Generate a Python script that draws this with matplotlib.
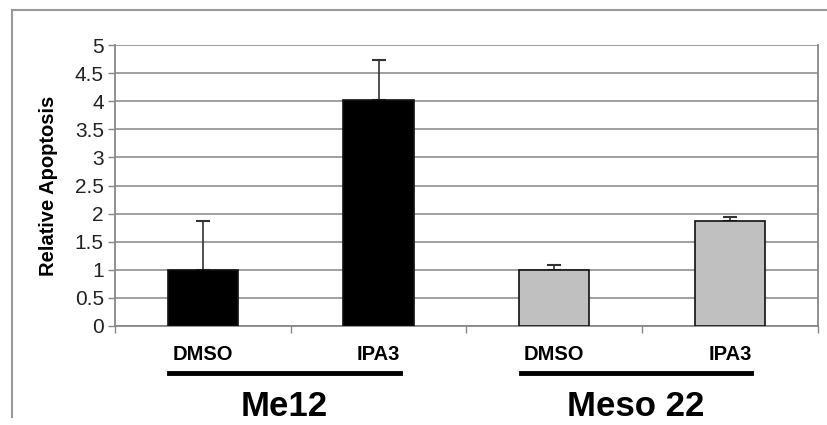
import matplotlib.pyplot as plt
from matplotlib.lines import Line2D

plt.rcParams['font.family'] = ['Liberation Sans', 'DejaVu Sans']

treatments = ["DMSO", "IPA3", "DMSO", "IPA3"]
groups = ["Me12", "Meso 22"]
values = [1.0, 4.03, 1.0, 1.86]
errors = [0.87, 0.70, 0.08, 0.08]
colors = ["black", "black", "#c0c0c0", "#c0c0c0"]
yticks = [0, 0.5, 1, 1.5, 2, 2.5, 3, 3.5, 4, 4.5, 5]

fig = plt.figure(figsize=(8.27, 4.25), dpi=100)
ax = fig.add_axes([0.139, 0.233, 0.85, 0.661])

x = list(range(len(values)))
ax.bar(x, values, width=0.4, color=colors, edgecolor="#111111", linewidth=1.2, zorder=3)
ax.errorbar(x, values, yerr=[[0] * len(errors), errors], fmt="none",
            ecolor="#333333", elinewidth=1.2, capsize=5, capthick=1.5, zorder=2)

ax.set_xlim(-0.5, 3.5)
ax.set_ylim(0, 5)
ax.set_yticks(yticks)
ax.set_yticklabels([f"{t:g}" for t in yticks], fontsize=15, color="#222222")
ax.yaxis.grid(True, color="#999999", linewidth=1.3)
ax.set_axisbelow(True)
ax.set_xticks([-0.5, 0.5, 1.5, 2.5, 3.5])
ax.set_xticklabels([])
ax.tick_params(axis="both", color="#888888", length=5, width=1)
ax.tick_params(axis="y", pad=3)
ax.spines["top"].set_visible(False)
for s in ["left", "right", "bottom"]:
    ax.spines[s].set_color("#888888")
    ax.spines[s].set_linewidth(1.3)
ax.set_ylabel("Relative Apoptosis", fontsize=14.5, fontweight="bold", labelpad=12)

trans = ax.get_xaxis_transform()
for xi, t in zip(x, treatments):
    ax.text(xi, -0.103, t, transform=trans, ha="center", va="center",
            fontsize=14.5, fontweight="bold", clip_on=False)
for gi, g in enumerate(groups):
    x0 = 2 * gi - 0.19
    x1 = 2 * gi + 1 + 0.12
    ax.add_line(Line2D([x0, x1], [-0.167, -0.167], transform=trans, color="black",
                       linewidth=3.5, clip_on=False))
    ax.text((x0 + x1) / 2, -0.285, g, transform=trans, ha="center", va="center",
            fontsize=25, fontweight="bold", clip_on=False)

# outer frame
fig.add_artist(Line2D([12 / 827, 12 / 827], [1 - 417 / 425, 1 - 10 / 425],
                      transform=fig.transFigure, color="#999999", linewidth=1.5))
fig.add_artist(Line2D([12 / 827, 1.0], [1 - 10 / 425, 1 - 10 / 425],
                      transform=fig.transFigure, color="#999999", linewidth=1.5))

fig.savefig("out.png", dpi=100)
